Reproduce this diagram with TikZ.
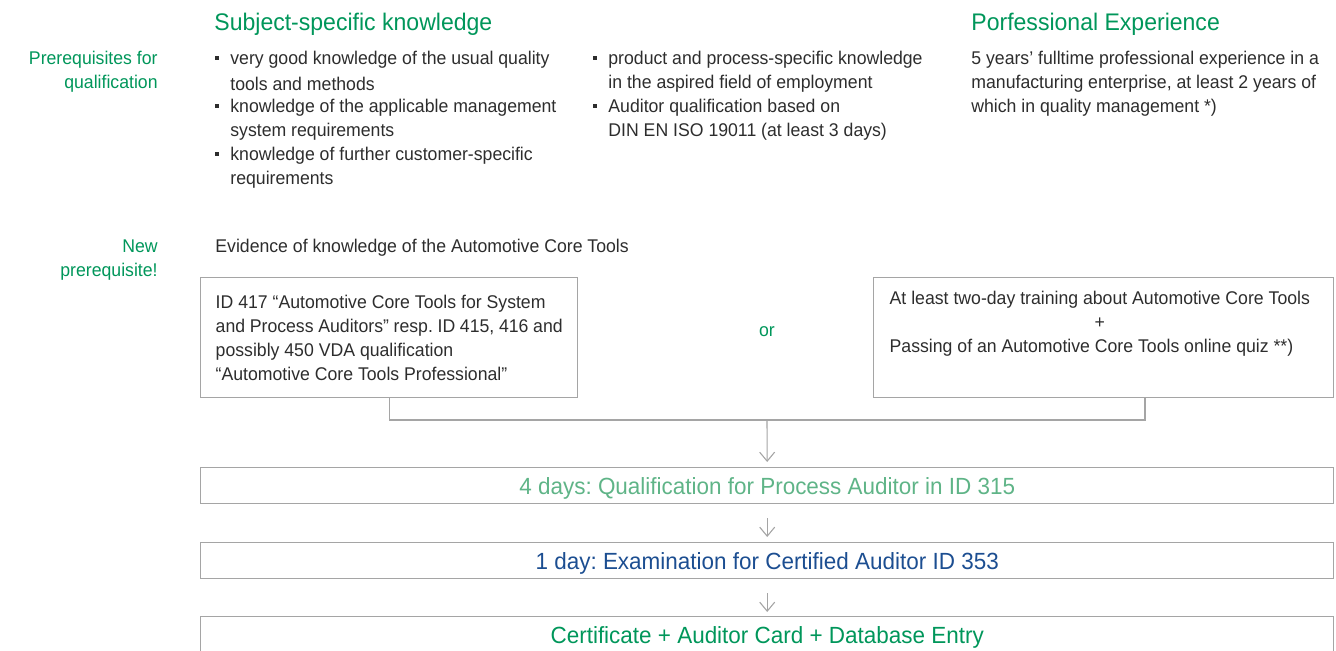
\documentclass[tikz,border=0pt]{standalone}
\usepackage{fontspec}
\setmainfont{Liberation Sans}[FakeStretch=0.96]
\usetikzlibrary{arrows.meta}
\definecolor{vdagreen}{RGB}{0,150,90}
\definecolor{vdalight}{RGB}{95,180,135}
\definecolor{vdablue}{RGB}{28,78,145}
\definecolor{vdatext}{RGB}{45,45,45}
\definecolor{vdaframe}{RGB}{165,165,165}
\frenchspacing
\tikzset{
  body/.style={anchor=west, inner sep=0pt, yshift=-1pt, text=vdatext, font=\fontsize{9.2}{12}\selectfont},
  side/.style={anchor=east, inner sep=0pt, yshift=-1pt, text=vdagreen, align=right, font=\fontsize{9.2}{12}\selectfont},
  head/.style={anchor=west, inner sep=0pt, yshift=-1pt, text=vdagreen, font=\fontsize{12}{14}\selectfont},
  dot/.style={fill=vdatext, inner sep=0pt, minimum size=1.9pt},
  frame/.style={draw=vdaframe, line width=0.7pt},
  altbox/.style={frame, anchor=north west, minimum height=60pt, inner xsep=7.5pt, align=flush left, text=vdatext, font=\fontsize{9.2}{12}\selectfont},
  stepbox/.style={frame, anchor=north west, minimum width=566.5pt, minimum height=18pt, inner sep=0pt, text height=9pt, text depth=0pt, font=\fontsize{11.7}{13}\selectfont},
  flow/.style={draw=vdaframe, line width=0.55pt, -{Straight Barb[length=4.5pt,width=7.5pt]}},
}
\begin{document}
\begin{tikzpicture}[x=0.5pt, y=-0.5pt]
  \useasboundingbox (0,0) rectangle (1336,650);
  % left side labels
  \node[side] (pre) at (158,70) {Prerequisites for\\qualification};
  \node[side] (new) at (158,258) {New\\prerequisite!};
  % headings
  \node[head] (subj) at (214,22) {Subject-specific knowledge};
  \node[head] (prof) at (971,22) {Porfessional Experience};
  % subject-specific knowledge, first column
  \foreach \y in {58,106,154} {
    \node[dot] (da\y) at (217,\y) {};
  }
  \foreach \y/\t in {58/very good knowledge of the usual quality, 82/tools and methods,
      106/knowledge of the applicable management, 130/system requirements,
      154/knowledge of further customer-specific, 178/requirements} {
    \node[body] (sa\y) at (230,\y) {\t};
  }
  % second column
  \foreach \y in {58,106} {
    \node[dot] (db\y) at (595,\y) {};
  }
  \foreach \y/\t in {58/product and process-specific knowledge, 82/in the aspired field of employment,
      106/Auditor qualification based on, 130/DIN EN ISO 19011 (at least 3 days)} {
    \node[body] (sb\y) at (608,\y) {\t};
  }
  % professional experience
  \foreach \y/\t in {58/5 years’ fulltime professional experience in a,
      82/{manufacturing enterprise, at least 2 years of}, 106/which in quality management *)} {
    \node[body] (pe\y) at (971,\y) {\t};
  }
  % core tools
  \node[body] (evid) at (215,246) {Evidence of knowledge of the Automotive Core Tools};
  \node[altbox, text width=173.5pt] (alt1) at (200,277)
    {ID 417 “Automotive Core Tools for System\\and Process Auditors” resp. ID 415, 416 and\\possibly 450 VDA qualification\\“Automotive Core Tools Professional”};
  \node[altbox, text width=214pt, inner xsep=8pt] (alt2) at (873,277)
    {At least two-day training about Automotive Core Tools\\\makebox[210pt]{+}\\Passing of an Automotive Core Tools online quiz **)\\\strut};
  \node[body, anchor=center, text=vdagreen] (or) at (767,330) {or};
  \coordinate (join) at (767,420);
  \draw[frame] (alt1.south) |- (join) -| ([xshift=136pt]alt2.south west);
  % qualification steps
  \node[stepbox, text=vdalight] (qual) at (200,467) {4 days: Qualification for Process Auditor in ID 315};
  \node[stepbox, text=vdablue] (exam) at (200,542) {1 day: Examination for Certified Auditor ID 353};
  \node[stepbox, text=vdagreen] (cert) at (200,616) {Certificate + Auditor Card + Database Entry};
  \draw[flow, shorten >=2.5pt] (join) -- (qual.north);
  \draw[flow, shorten <=7pt, shorten >=2.5pt] (qual.south) -- (exam.north);
  \draw[flow, shorten <=7pt, shorten >=2pt] (exam.south) -- (cert.north);
\end{tikzpicture}
\end{document}
